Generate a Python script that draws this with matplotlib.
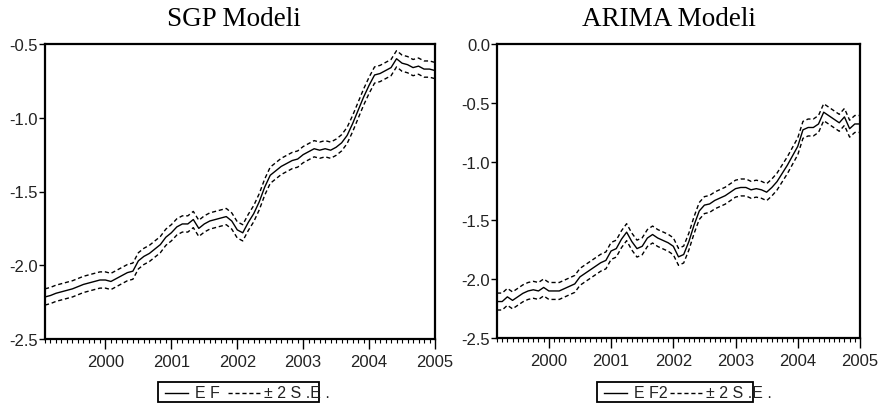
import numpy as np
import matplotlib
matplotlib.use("Agg")
import matplotlib.pyplot as plt
from matplotlib.patches import Rectangle
from matplotlib.lines import Line2D
from matplotlib.ticker import MultipleLocator, FixedLocator, FormatStrFormatter

# Monthly forecasts, SGP model (1999M2 .. 2005M1)
sgp_start = 1999 + 1 / 12
sgp_ef = [-2.215, -2.205, -2.19, -2.18, -2.17, -2.16, -2.145, -2.13, -2.12, -2.11, -2.10,
          -2.10, -2.11, -2.09, -2.07, -2.05, -2.04, -1.97, -1.94, -1.92, -1.89, -1.86, -1.81,
          -1.78, -1.74, -1.72, -1.72, -1.69, -1.75, -1.72, -1.70, -1.69, -1.68, -1.67, -1.70,
          -1.76, -1.78, -1.71, -1.65, -1.57, -1.47, -1.39, -1.36, -1.33, -1.31, -1.29, -1.28,
          -1.25, -1.23, -1.21, -1.22, -1.21, -1.22, -1.20, -1.17, -1.12, -1.04, -0.95, -0.86,
          -0.78, -0.71, -0.70, -0.68, -0.66, -0.60, -0.63, -0.64, -0.66, -0.65, -0.67, -0.67,
          -0.68]
sgp_se2 = 0.055

# Monthly forecasts, ARIMA model (1999M3 .. 2005M1)
arima_start = 1999 + 2 / 12
arima_ef = [-2.19, -2.19, -2.15, -2.18, -2.15, -2.12, -2.10, -2.09, -2.10, -2.07,
            -2.10, -2.10, -2.10, -2.08, -2.06, -2.04, -1.98, -1.95, -1.92, -1.89, -1.86, -1.84,
            -1.76, -1.74, -1.66, -1.60, -1.68, -1.74, -1.72, -1.65, -1.62, -1.65, -1.67, -1.69,
            -1.72, -1.81, -1.79, -1.68, -1.54, -1.42, -1.37, -1.36, -1.33, -1.31, -1.29, -1.26,
            -1.23, -1.22, -1.22, -1.24, -1.23, -1.24, -1.26, -1.22, -1.17, -1.10, -1.03, -0.95,
            -0.87, -0.73, -0.71, -0.71, -0.68, -0.58, -0.61, -0.64, -0.67, -0.62, -0.72, -0.68,
            -0.68]
arima_se2 = 0.072

years = [2000, 2001, 2002, 2003, 2004, 2005]
titles = ["SGP Modeli", "ARIMA Modeli"]
legend_names = ["E F", "E F2"]

W, H = 881, 410
fig = plt.figure(figsize=(W / 100, H / 100), dpi=100)
fig.patch.set_facecolor("white")

sans = "Liberation Sans"
serif = "Liberation Serif"


def px(x0, y0, x1, y1):
    return [x0 / W, 1 - y1 / H, (x1 - x0) / W, (y1 - y0) / H]


def panel(rect, start, ef, se2, ylim, title, title_x, name, leg_box, dash_x):
    ax = fig.add_axes(rect)
    ef = np.array(ef)
    x = start + np.arange(len(ef)) / 12
    ax.plot(x, ef, color="black", lw=1.0)
    ax.plot(x, ef + se2, color="black", lw=1.0, ls=(0, (3, 2)))
    ax.plot(x, ef - se2, color="black", lw=1.0, ls=(0, (3, 2)))
    ax.set_xlim(start, 2005)
    ax.set_ylim(*ylim)
    ax.yaxis.set_major_locator(MultipleLocator(0.5))
    ax.yaxis.set_major_formatter(FormatStrFormatter("%.1f"))
    ax.xaxis.set_major_locator(FixedLocator(years))
    ax.xaxis.set_minor_locator(MultipleLocator(1 / 12))
    ax.set_xticklabels([str(y) for y in years])
    ax.tick_params(axis="x", which="major", direction="out", length=7, width=1,
                   labelsize=12, pad=4, labelcolor="#222222")
    ax.tick_params(axis="x", which="minor", direction="out", length=3, width=0.8)
    ax.tick_params(axis="y", direction="out", length=4, width=1, labelsize=12, pad=1,
                   labelcolor="#222222")
    for lab in ax.get_xticklabels() + ax.get_yticklabels():
        lab.set_family(sans)
    for s in ax.spines.values():
        s.set_linewidth(1.6)
    ax.set_title(title, family=serif, fontsize=19.5, pad=14, x=title_x)

    # framed legend strip below the axes
    bx0, by0, bx1, by1 = leg_box
    fig.patches.append(Rectangle((bx0 / W, 1 - by1 / H), (bx1 - bx0) / W, (by1 - by0) / H,
                                 transform=fig.transFigure, fill=False, ec="black", lw=1.3))
    yl = 1 - 394 / H
    fig.lines.append(Line2D([(bx0 + 7) / W, (bx0 + 30) / W], [yl, yl],
                            transform=fig.transFigure, color="black", lw=1.0))
    fig.text((bx0 + 37) / W, yl, name, family=sans, fontsize=11.5, va="center", ha="left",
             color="#222222")
    fig.lines.append(Line2D([dash_x / W, (dash_x + 33) / W], [yl, yl],
                            transform=fig.transFigure, color="black", lw=1.0,
                            ls=(0, (3, 2))))
    fig.text((dash_x + 36) / W, yl, "± 2 S .E .", family=sans, fontsize=11.5,
             va="center", ha="left", color="#222222")
    return ax


panel(px(45, 45, 435, 340), sgp_start, sgp_ef, sgp_se2, (-2.5, -0.5),
      titles[0], 0.485, legend_names[0], (158, 383, 319, 403), 228)
panel(px(497, 45, 860, 339), arima_start, arima_ef, arima_se2, (-2.5, 0.0),
      titles[1], 0.474, legend_names[1], (597, 383, 753, 403), 670)

fig.savefig("out.png", dpi=100, facecolor="white")
